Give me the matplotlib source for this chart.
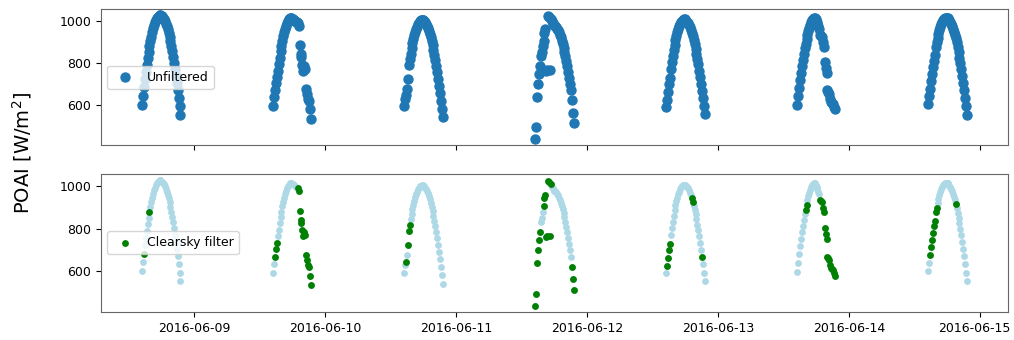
import numpy as np
import pandas as pd
import matplotlib
matplotlib.use("Agg")
import matplotlib.pyplot as plt
import matplotlib.dates as mdates
from matplotlib.transforms import ScaledTranslation

# POA irradiance, 10-minute samples starting 14:30 each day
days = ["2016-06-08", "2016-06-09", "2016-06-10", "2016-06-11",
        "2016-06-12", "2016-06-13", "2016-06-14"]
start_time = "14:30"

poai_0608 = [600, 643, 683, 722, 758, 791, 823, 852, 879, 904, 926, 947, 965, 980, 994,
             1005, 1014, 1021, 1025, 1028, 1028, 1026, 1022, 1016, 1009, 1000, 988, 975,
             960, 943, 924, 904, 881, 857, 830, 802, 772, 740, 706, 670, 633, 593, 552]
poai_0609 = [594, 636, 669, 704, 732, 764, 795, 826, 855, 881, 905, 927, 946, 963, 978,
             991, 1001, 1008, 1013, 1015, 1014, 1012, 1009, 1005, 1001, 996, 994, 990, 976,
             885, 827, 843, 792, 764, 787, 772, 677, 653, 630, 619, 578, 535]
poai_0610 = [594, 629, 645, 676, 724, 790, 819, 845, 870, 893, 913, 932, 948, 962, 974,
             985, 993, 999, 1003, 1005, 1005, 1003, 999, 994, 986, 977, 966, 953, 939, 922,
             904, 884, 862, 838, 812, 785, 755, 724, 691, 656, 620, 581, 541]
poai_0611 = [438, 494, 638, 700, 748, 787, 834, 852, 880, 905, 945, 961, 762, 766, 1024,
             1020, 765, 1010, 998, 990, 981, 979, 976, 971, 964, 957, 946, 935, 922, 907,
             891, 873, 853, 832, 809, 784, 758, 730, 701, 669, 622, 562, 512]
poai_0612 = [592, 625, 661, 698, 728, 770, 803, 834, 862, 887, 910, 930, 947, 962, 975,
             986, 995, 1001, 1005, 1008, 1008, 1006, 1002, 997, 990, 981, 970, 958, 943,
             927, 909, 890, 868, 845, 820, 793, 764, 734, 701, 667, 632, 594, 555]
poai_0613 = [598, 640, 680, 717, 752, 784, 815, 843, 870, 890, 913, 935, 953, 969, 983,
             995, 1004, 1010, 1014, 1016, 1008, 996, 985, 975, 962, 934, 929, 924, 898, 877,
             803, 775, 751, 669, 661, 653, 630, 614, 610, 606, 590, 578]
poai_0614 = [603, 641, 677, 712, 745, 780, 811, 838, 877, 898, 920, 940, 957, 972, 985,
             996, 1004, 1010, 1013, 1015, 1015, 1013, 1009, 1003, 996, 987, 976, 964, 950,
             934, 918, 898, 876, 852, 826, 799, 770, 739, 706, 671, 634, 594, 553]

# sample indices that pass the clear-sky filter
clear_0608 = [2, 8]
clear_0609 = [2, 3, 4] + list(range(27, 42))
clear_0610 = [2, 4, 5, 6]
clear_0611 = [0, 1, 2, 3, 4, 5, 9, 10, 11, 12, 13, 14, 15, 16, 17, 40, 41, 42]
clear_0612 = [1, 2, 3, 4, 28, 29, 39]
clear_0613 = [9, 10] + list(range(25, 42))
clear_0614 = [2, 3, 4, 5, 6, 7, 8, 9, 30]

poai_days = [poai_0608, poai_0609, poai_0610, poai_0611, poai_0612, poai_0613, poai_0614]
clear_days = [clear_0608, clear_0609, clear_0610, clear_0611, clear_0612, clear_0613, clear_0614]

times, vals, flags = [], [], []
for day, v, c in zip(days, poai_days, clear_days):
    idx = pd.date_range(f"{day} {start_time}", periods=len(v), freq="10min")
    times.extend(idx)
    vals.extend(v)
    flags.extend([i in c for i in range(len(v))])

poai = pd.Series(vals, index=pd.DatetimeIndex(times))
clear = np.array(flags)

plt.rcParams["font.family"] = "DejaVu Sans"
plt.rcParams["font.size"] = 9

fig = plt.figure(figsize=(10.14, 3.4), dpi=100)
ax1 = fig.add_axes([0.0996, 0.5735, 0.8944, 0.4])
ax2 = fig.add_axes([0.0996, 0.0824, 0.8944, 0.4058], sharex=ax1)

ax1.scatter(poai.index, poai.values, s=42, color="#1f77b4", label="Unfiltered")
ax2.scatter(poai.index, poai.values, s=15, color="lightblue")
ax2.scatter(poai.index[clear], poai.values[clear], s=15, color="green",
            label="Clearsky filter")

for ax in (ax1, ax2):
    ax.set_yticks([600, 800, 1000])
    ax.legend(loc="center left")
    for sp in ax.spines.values():
        sp.set_color("#666666")

ax2.xaxis.set_major_locator(mdates.DayLocator())
ax2.xaxis.set_major_formatter(mdates.DateFormatter("%Y-%m-%d"))
plt.setp(ax1.get_xticklabels(), visible=False)

# keep the last date label inside the canvas
fig.canvas.draw()
last = ax2.get_xticklabels()[-1]
last.set_transform(last.get_transform() + ScaledTranslation(-6 / 100, 0, fig.dpi_scale_trans))

fig.text(0.022, 0.55, "POAI [W/m$^2$]", rotation=90, fontsize=14,
         ha="center", va="center")

fig.savefig("out.png", dpi=100)
